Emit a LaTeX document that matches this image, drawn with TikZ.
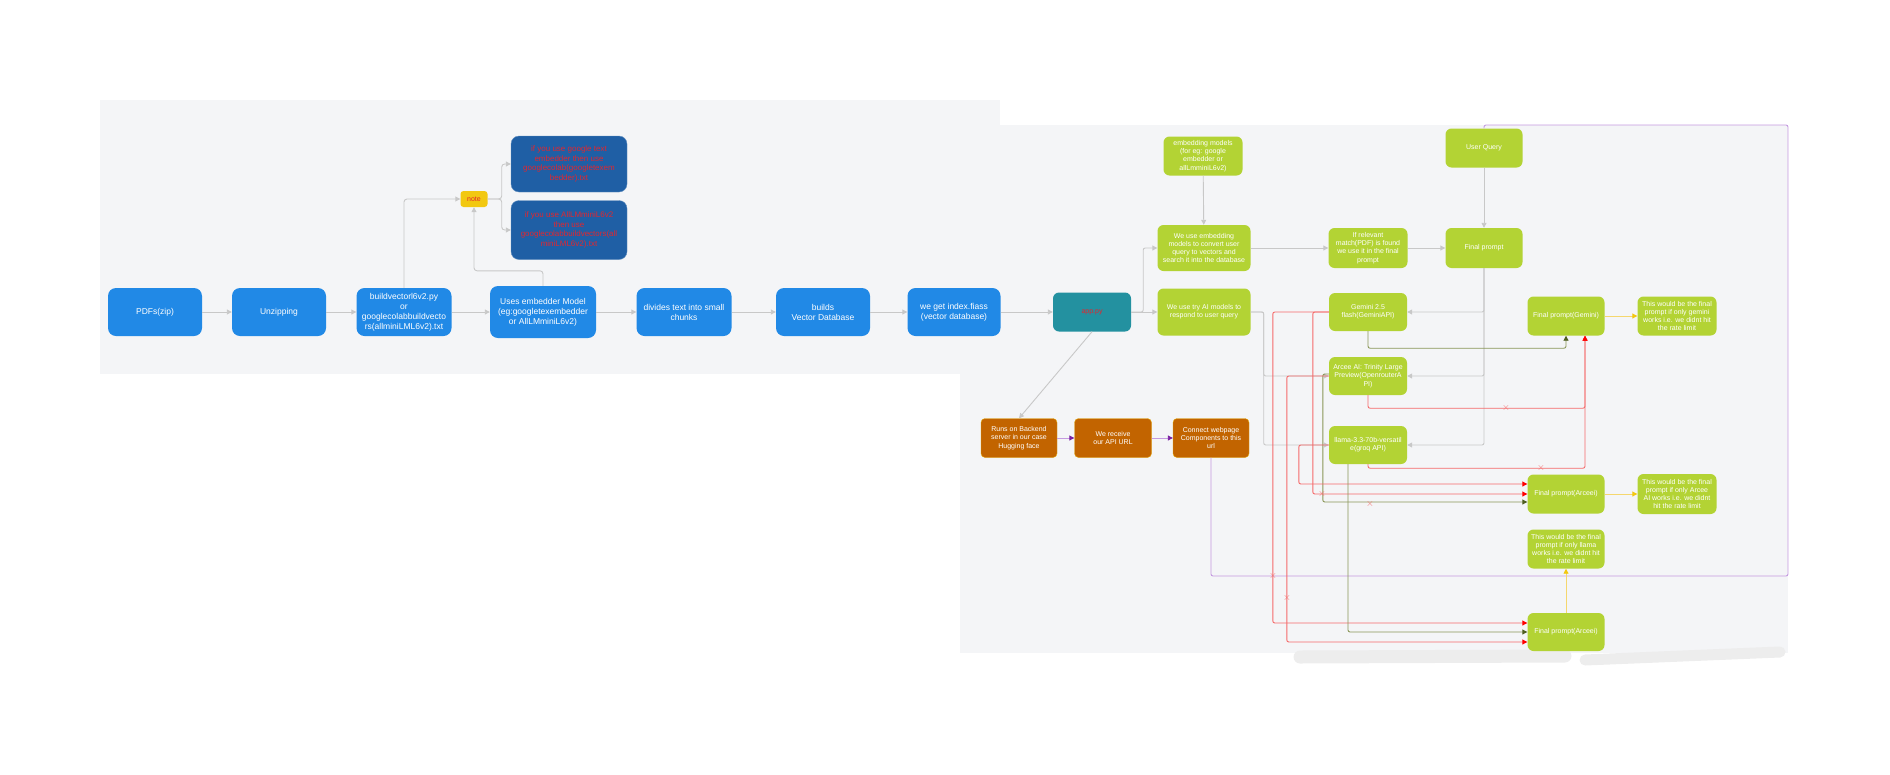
\documentclass[tikz,border=0pt]{standalone}
\usepackage{fontspec}
\setmainfont{Liberation Sans}
\usetikzlibrary{arrows.meta}
\definecolor{panelGray}{HTML}{F4F5F7}
\definecolor{stepBlue}{HTML}{2189E6}
\definecolor{tipBlue}{HTML}{1F5FA5}
\definecolor{limeGreen}{HTML}{B3D334}
\definecolor{appTeal}{HTML}{2391A0}
\definecolor{noteYellow}{HTML}{F2C811}
\definecolor{hostOrange}{HTML}{C26400}
\definecolor{wireGray}{HTML}{C8C8C8}
\definecolor{failRed}{HTML}{F46A6A}
\definecolor{okOlive}{HTML}{8A9658}
\definecolor{okOliveTip}{HTML}{4F5F1F}
\definecolor{webPurple}{HTML}{C49AE0}
\definecolor{webPurpleTip}{HTML}{7A1FA2}
\definecolor{hintYellow}{HTML}{F5D76E}
\definecolor{noteRed}{HTML}{E3262E}

\begin{document}
\begin{tikzpicture}[x=1pt, y=-1pt,
    dims/.style 2 args={minimum width=#1pt, minimum height=#2pt},
    stepbox/.style={fill=stepBlue, rounded corners=8pt, text=white, align=center, inner sep=0pt, font=\fontsize{8.5}{10}\selectfont},
    tipbox/.style={fill=tipBlue, draw=tipBlue!70!white, rounded corners=8pt, text=noteRed, align=center, inner sep=0pt, font=\fontsize{8}{9.5}\selectfont},
    limebox/.style={fill=limeGreen, rounded corners=6pt, text=white, align=center, inner sep=0pt, font=\fontsize{7}{8.2}\selectfont},
    hostbox/.style={fill=hostOrange, draw=noteYellow!70!hostOrange, rounded corners=4pt, text=white, align=center, inner sep=0pt, font=\fontsize{7}{8.2}\selectfont},
    wire/.style={draw=wireGray, line width=0.9pt, -{Triangle[length=5pt, width=5pt]}},
    failwire/.style={draw=failRed, line width=0.9pt, rounded corners=2pt, -{Triangle[length=5pt, width=5pt, color=red]}},
    okwire/.style={draw=okOlive, line width=0.9pt, rounded corners=2pt, -{Triangle[length=5pt, width=5pt, color=okOliveTip]}},
    webwire/.style={draw=webPurple, line width=0.9pt, rounded corners=2pt, -{Triangle[length=5pt, width=5pt, color=webPurpleTip]}},
    hintwire/.style={draw=hintYellow, line width=0.9pt, -{Triangle[length=5pt, width=5pt, color=noteYellow]}},
    xmark/.style={text=failRed, inner sep=0pt, font=\fontsize{10}{10}\selectfont}
  ]
    \useasboundingbox (0,0) rectangle (1890,774);
    % panels
    \fill[panelGray] (960,125) rectangle (1788,653);
    \fill[panelGray] (100,100) rectangle (1000,374);
    \draw[line width=13pt, line cap=round, color=black!7] (1300,657) -- (1565,656);
    \draw[line width=11pt, line cap=round, color=black!7] (1585,660) -- (1780,652);

    % build pipeline
    \node[stepbox, dims={94}{48}] (pdf) at (155,312) {PDFs(zip)};
    \node[stepbox, dims={94}{48}] (unzip) at (279,312) {Unzipping};
    \node[stepbox, dims={95}{48}] (bv) at (404,312) {buildvectorl6v2.py\\or\\googlecolabbuildvecto\\rs(allminiLML6v2).txt};
    \node[stepbox, dims={106}{52}] (emb) at (543,312) {Uses embedder Model\\(eg:googletexembedder\\or AllLMminiL6v2)};
    \node[stepbox, dims={95}{48}] (chunk) at (684,312) {divides text into small\\chunks};
    \node[stepbox, dims={94}{48}] (vdb) at (823,312) {builds\\Vector Database};
    \node[stepbox, dims={93}{48}] (idx) at (954,312) {we get index.fiass\\(vector database)};
    \node[fill=appTeal, rounded corners=6pt, text=noteRed, inner sep=0pt, dims={78}{39}, font=\fontsize{7}{8}\selectfont] (app) at (1092,312) {app.py};

    \node[fill=noteYellow, rounded corners=3pt, text=noteRed, inner sep=0pt, dims={27}{16}, font=\fontsize{7}{8}\selectfont] (note) at (474,199) {note};
    \node[tipbox, dims={116}{56}] (tip1) at (569,164) {if you use google text\\embedder then use\\googlecolab(googletexem\\bedder).txt};
    \node[tipbox, dims={116}{59}] (tip2) at (569,230) {if you use AllLMminiL6v2\\then use\\googlecolabbuildvectors(all\\miniLML6v2).txt};

    % query side
    \node[limebox, dims={79}{39}] (embm) at (1203,156) {embedding models\\(for eg: google\\embedder or\\allLmminiL6v2)};
    \node[limebox, dims={93}{46}] (qvec) at (1204,248) {We use embedding\\models to convert user\\query to vectors and\\search it into the database};
    \node[limebox, dims={79}{40}] (match) at (1368,248) {If relevant\\match(PDF) is found\\we use it in the final\\prompt};
    \node[limebox, dims={77}{39}] (uq) at (1484,148) {User Query};
    \node[limebox, dims={77}{40}] (fp) at (1484,248) {Final prompt};
    \node[limebox, dims={93}{47}] (tryai) at (1204,312) {We use try AI models to\\respond to user query};
    \node[limebox, dims={78}{38}] (gem) at (1368,312) {Gemini 2.5\\flash(GeminiAPI)};
    \node[limebox, dims={78}{38}] (arc) at (1368,376) {Arcee AI: Trinity Large\\Preview(OpenrouterA\\PI)};
    \node[limebox, dims={78}{38}] (lla) at (1368,445) {llama-3.3-70b-versatil\\e(groq API)};
    \node[limebox, dims={77}{39}] (fpgem) at (1566,316) {Final prompt(Gemini)};
    \node[limebox, dims={79}{39}] (ngem) at (1677,316) {This would be the final\\prompt if only gemini\\works i.e. we didnt hit\\the rate limit};
    \node[limebox, dims={77}{39}] (fparc) at (1566,494) {Final prompt(Arceei)};
    \node[limebox, dims={79}{40}] (narc) at (1677,494) {This would be the final\\prompt if only Arcee\\AI works i.e. we didnt\\hit the rate limit};
    \node[limebox, dims={77}{39}] (nlla) at (1566,549) {This would be the final\\prompt if only llama\\works i.e. we didnt hit\\the rate limit};
    \node[limebox, dims={77}{38}] (fplla) at (1566,632) {Final prompt(Arceei)};

    % hosting
    \node[hostbox, dims={76}{39}] (hf) at (1019,438) {Runs on Backend\\server in our case\\Hugging face};
    \node[hostbox, dims={77}{39}] (url) at (1113,438) {We receive\\our API URL};
    \node[hostbox, dims={76}{39}] (web) at (1211,438) {Connect webpage\\Components to this\\url};

    % connectors
    \draw[wire] (pdf) -- (unzip);
    \draw[wire] (unzip) -- (bv);
    \draw[wire] (bv) -- (emb);
    \draw[wire] (emb) -- (chunk);
    \draw[wire] (chunk) -- (vdb);
    \draw[wire] (vdb) -- (idx);
    \draw[wire] (idx) -- (app);
    \draw[wire, rounded corners=3pt] (bv.north) |- (note.west);
    \draw[wire, rounded corners=3pt] (emb.north) -- ++(0,-15) -| (note.south);
    \draw[wire, rounded corners=3pt] (note.east) -- ++(14,0) |- (tip1.west);
    \draw[wire, rounded corners=3pt] (note.east) -- ++(14,0) |- (tip2.west);

    \draw[wire] (app) -- (tryai);
    \draw[wire, rounded corners=2pt] (app.east) -- ++(12,0) |- (qvec.west);
    \draw[wire] (app.south) -- (hf.north);
    \draw[wire] (embm) -- (qvec);
    \draw[wire] (qvec) -- (match);
    \draw[wire] (match) -- (fp);
    \draw[wire] (uq) -- (fp);
    \draw[wire, rounded corners=2pt] (tryai.east) -- ++(13,0) |- (arc.west);
    \draw[wire, rounded corners=2pt] (tryai.east) -- ++(13,0) |- (lla.west);
    \draw[wire, rounded corners=2pt] (fp.south) |- (gem.east);
    \draw[wire, rounded corners=2pt] (fp.south) |- (arc.east);
    \draw[wire, rounded corners=2pt] (fp.south) |- (lla.east);

    \draw[webwire] (hf) -- (url);
    \draw[webwire] (url) -- (web);
    \coordinate (webturn) at (1788,576);
    \coordinate (webtop) at (1788,125);
    \draw[webwire, -] (web.south) |- (webturn) -- (webtop) -| (uq.north);

    % model fallbacks
    \draw[okwire] (gem.south) -- ++(0,17) -| (fpgem.south);
    \draw[failwire] (arc.south) -- ++(0,13) -| ([xshift=19pt]fpgem.south);
    \draw[failwire] (lla.south) -- ++(0,4) -| ([xshift=19pt]fpgem.south);
    \draw[okwire] ([yshift=2pt]arc.west) -- ++(-6,0) |- ([yshift=-8pt]fparc.west);
    \draw[failwire] (gem.west) -- ++(-16,0) |- (fparc.west);
    \draw[failwire] (lla.west) -- ++(-30,0) |- ([yshift=10pt]fparc.west);
    \draw[failwire] (gem.west) -- ++(-56,0) |- ([yshift=9pt]fplla.west);
    \draw[failwire] (arc.west) -- ++(-42,0) |- ([yshift=-10pt]fplla.west);
    \draw[okwire] ([xshift=-20pt]lla.south) |- (fplla.west);

    \node[xmark] (x1) at (1506,408) {$\times$};
    \node[xmark] (x2) at (1541,468) {$\times$};
    \node[xmark] (x3) at (1322,494) {$\times$};
    \node[xmark] (x4) at (1370,504) {$\times$};
    \node[xmark] (x5) at (1273,576) {$\times$};
    \node[xmark] (x6) at (1287,598) {$\times$};

    \draw[hintwire] (fpgem) -- (ngem);
    \draw[hintwire] (fparc) -- (narc);
    \draw[hintwire] (fplla) -- (nlla);
\end{tikzpicture}
\end{document}
